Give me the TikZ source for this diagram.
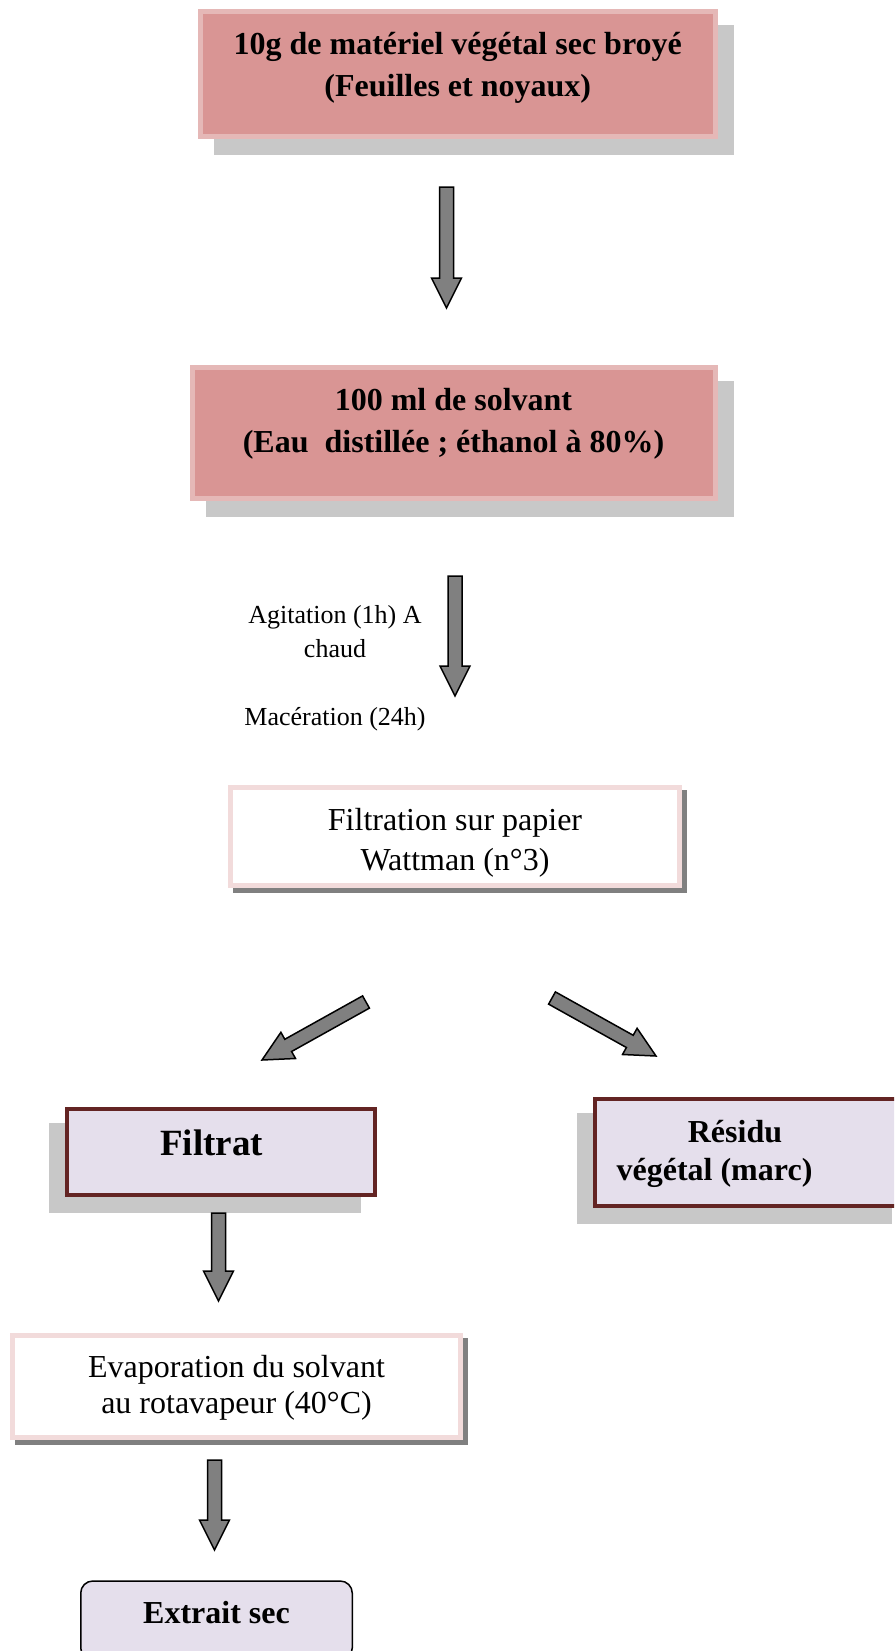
\documentclass[tikz,border=0pt]{standalone}
\usepackage{fontspec}
\setmainfont{Liberation Serif}
\usepackage{xcolor}
\usepackage{tikz}
\usetikzlibrary{calc}
\usetikzlibrary{shadows}
\definecolor{pinkfill}{HTML}{D99594}
\definecolor{pinkline}{HTML}{E5B8B7}
\definecolor{palepink}{HTML}{F2DBDB}
\definecolor{lilac}{HTML}{E5DFEC}
\definecolor{darkred}{HTML}{632423}
\definecolor{shadelight}{HTML}{C8C8C8}
\definecolor{shadedark}{HTML}{808080}
\tikzset{
    tbox/.style = {rectangle, align=center, inner sep=0pt, text centered},
    pink_node/.style = {tbox, draw=pinkline, fill=pinkfill, line width=5pt, font=\fontsize{32}{42}\selectfont\bfseries,
        general shadow={fill=shadelight, draw=shadelight, line width=5pt, shadow xshift=16pt, shadow yshift=-16pt}},
    white_node/.style = {tbox, draw=palepink, fill=white, line width=5pt, font=\fontsize{32}{40}\selectfont,
        general shadow={fill=shadedark, draw=shadedark, line width=5pt, shadow xshift=5pt, shadow yshift=-5pt}},
    lilac_node/.style = {tbox, draw=darkred, fill=lilac, line width=4pt, font=\fontsize{32}{38}\selectfont\bfseries,
        general shadow={fill=shadelight, draw=shadelight, line width=4pt, shadow xshift=-16pt, shadow yshift=-16pt}},
    round_node/.style = {tbox, rounded corners=12pt, draw=black, fill=lilac, line width=1.5pt, font=\fontsize{32}{38}\selectfont\bfseries},
    note/.style = {align=center, inner sep=0pt, text height=0pt, text depth=0pt, font=\fontsize{26}{34}\selectfont},
    fat_arrow/.style = {draw=black, fill=shadedark, line width=1.5pt, line join=miter,
        to path={let \p1=(\tikztostart), \p2=(\tikztotarget), \n1={atan2(\y2-\y1,\x2-\x1)} in
            ($(\p1)+(\n1+90:7pt)$) -- ($(\p2)+(\n1:-30pt)+(\n1+90:7pt)$) -- ($(\p2)+(\n1:-30pt)+(\n1+90:15pt)$)
            -- (\p2) -- ($(\p2)+(\n1:-30pt)+(\n1-90:15pt)$) -- ($(\p2)+(\n1:-30pt)+(\n1-90:7pt)$)
            -- ($(\p1)+(\n1-90:7pt)$) -- cycle}}
}

\begin{document}
\begin{tikzpicture}[x=1pt, y=-1pt]

    \useasboundingbox (0,0) rectangle (894,1651);
    \clip (0,0) rectangle (894,1651);

    \node [pink_node, minimum width=514.5pt, minimum height=125pt, text height=50pt, text depth=4pt]
        (mat) at (457.75,74) {10g de matériel végétal sec broyé\\(Feuilles et noyaux)};
    \node [pink_node, minimum width=523pt, minimum height=131pt, text height=44pt, text depth=6pt]
        (solv) at (453.5,433) {100 ml de solvant\\(Eau\ \ distillée ; éthanol à 80\%)};
    \node [white_node, minimum width=449pt, minimum height=98pt, text height=70pt, text depth=3pt]
        (filt) at (455,836.5) {Filtration sur papier\\Wattman (n°3)};
    \node [lilac_node, minimum width=308pt, minimum height=86pt, text height=20pt, text depth=14pt, font=\fontsize{37}{40}\selectfont\bfseries]
        (filtrat) at (221,1152) {Filtrat\hspace*{19pt}};
    \node [lilac_node, minimum width=311pt, minimum height=107pt, text height=58pt, text depth=3pt]
        (residu) at (750.5,1152.5) {Résidu\hspace*{31pt}\\végétal (marc)\hspace*{72pt}};
    \node [white_node, minimum width=448pt, minimum height=102pt, text height=56pt, text depth=3pt, font=\fontsize{32}{36}\selectfont]
        (evap) at (236.5,1386.5) {Evaporation du solvant\\au rotavapeur (40°C)};
    \node [round_node, minimum width=271.5pt, minimum height=79pt, text height=20pt, text depth=15pt]
        (extrait) at (216.5,1620.5) {Extrait sec};

    \node [note] (agit) at (335,657) {Agitation (1h) A\\chaud};
    \node [note] (mac) at (335,725) {Macération (24h)};

    \coordinate (mat_out) at (446.5,187);
    \coordinate (solv_in) at (446.5,308);
    \coordinate (solv_out) at (455,576);
    \coordinate (filt_in) at (455,696);
    \coordinate (filt_left) at (366,1002);
    \coordinate (filtrat_in) at (262,1060);
    \coordinate (filt_right) at (552,998);
    \coordinate (residu_in) at (656,1056);
    \coordinate (filtrat_out) at (218.5,1213);
    \coordinate (evap_in) at (218.5,1301);
    \coordinate (evap_out) at (214.5,1460);
    \coordinate (extrait_in) at (214.5,1550);

    \draw [fat_arrow] (mat_out) to (solv_in);
    \draw [fat_arrow] (solv_out) to (filt_in);
    \draw [fat_arrow] (filt_left) to (filtrat_in);
    \draw [fat_arrow] (filt_right) to (residu_in);
    \draw [fat_arrow] (filtrat_out) to (evap_in);
    \draw [fat_arrow] (evap_out) to (extrait_in);

\end{tikzpicture}
\end{document}
